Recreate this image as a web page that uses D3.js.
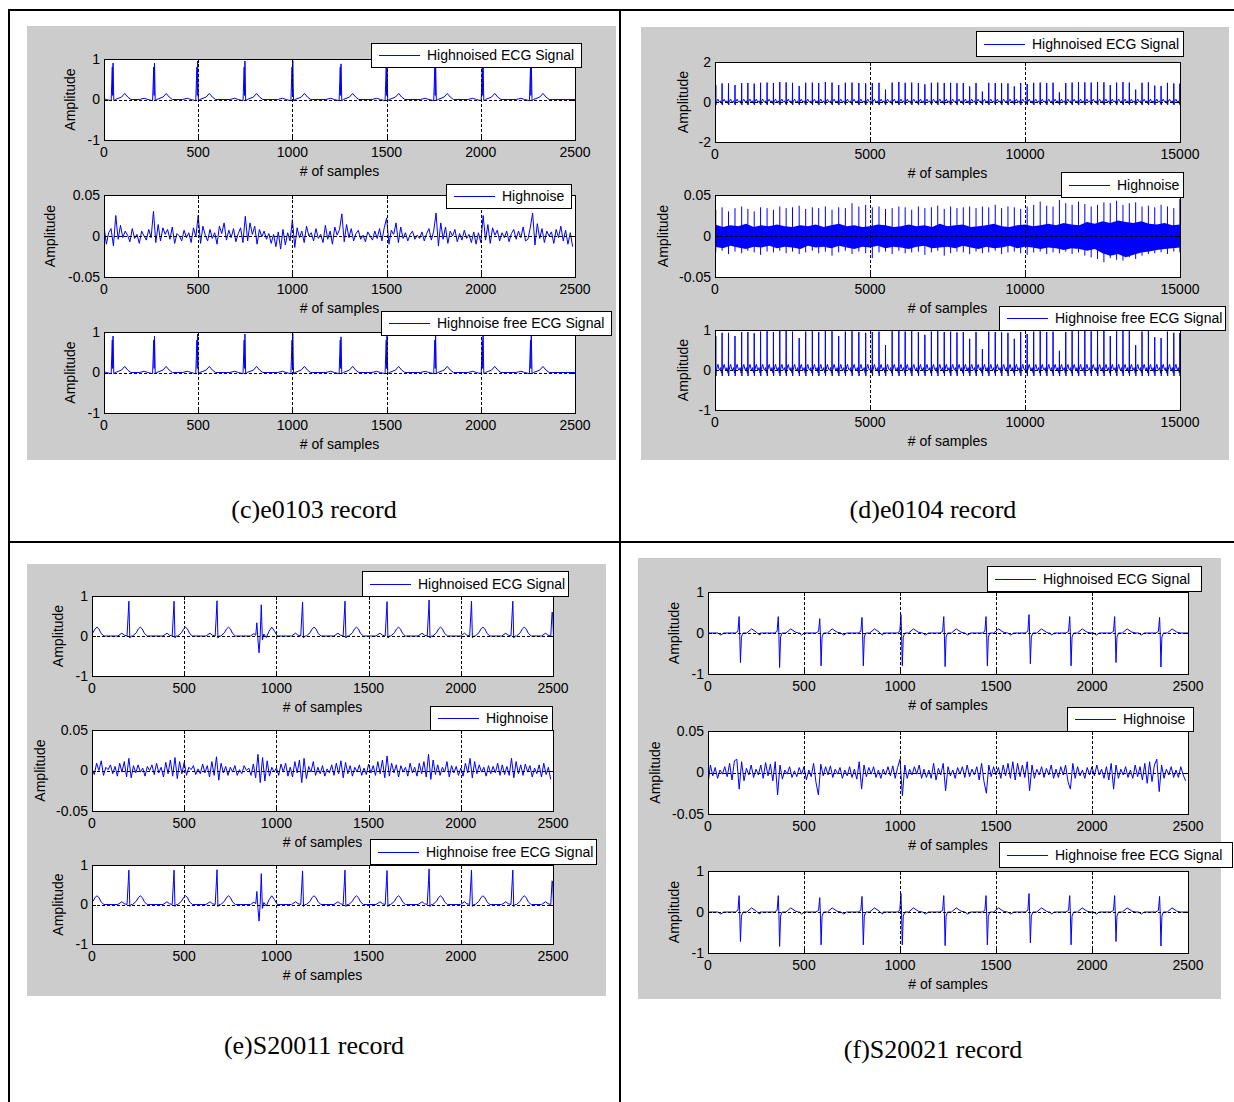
<!DOCTYPE html>
<html lang="en">
<head>
<meta charset="UTF-8">
<title>ECG records</title>
<script src="https://d3js.org/d3.v7.min.js"></script>
<style>
    body { margin: 0; background: #fff; }
    svg text { font-family: "Liberation Sans", Arial, sans-serif; font-size: 14px; fill: #000; }
    svg text.caption { font-family: "Liberation Serif", "Times New Roman", serif; font-size: 26px; }
</style>
</head>
<body>
<svg id="fig" width="1234" height="1102"></svg>
<script>

// ---- data ----

var ecgTicks = [-1, 0, 1];
var ecgTicksWide = [-2, 0, 2];
var noiseTicks = [-0.05, 0, 0.05];
var xTicksShort = [0, 500, 1000, 1500, 2000, 2500];
var xTicksLong = [0, 5000, 10000, 15000];

// (c) e0103 : R peak positions / heights and the beat shape
var cBeats = [48, 268, 497, 748, 1002, 1258, 1502, 1760, 2012, 2268];
var cR = [0.9, 0.9, 0.95, 0.95, 0.96, 0.88, 0.97, 0.97, 0.96, 0.93];
var cShapeOffset = [-80, -55, -35, -10, -4, -2, 0, 4, 12, 45, 62, 78, 95];
var cShapeValue  = [0, 0.03, 0, -0.03, 0.8, 0.1, "R", -0.03, 0, 0.06, 0.15, 0.06, 0];
// noise, one value every 12.5 samples
var cNoise = [
    0.012,-0.010,0.004,0.009,-0.012,0.025,-0.004,0.013,-0.002,0.006,0.001,-0.007,0.009,-0.003,0.002,-0.009,0.006,0.000,-0.005,0.008,
    -0.002,0.030,-0.008,0.014,-0.006,0.010,0.002,0.008,-0.004,0.011,-0.009,0.003,0.000,-0.006,0.007,-0.002,0.004,-0.008,0.010,-0.001,
    0.025,-0.009,0.012,0.001,-0.006,0.008,-0.003,0.004,-0.010,0.012,0.003,0.016,-0.005,0.007,-0.002,0.009,-0.007,0.003,0.010,-0.008,
    0.024,-0.006,0.016,0.002,0.012,-0.010,0.008,-0.001,0.006,-0.004,0.003,-0.009,0.002,-0.013,0.005,-0.016,0.008,-0.011,0.004,-0.006,
    0.020,-0.014,0.010,-0.002,0.006,-0.008,0.012,0.000,0.004,-0.006,0.009,-0.003,0.002,-0.008,0.013,-0.004,0.006,-0.010,0.011,0.001,
    0.008,0.027,-0.007,0.014,-0.002,0.009,-0.006,0.003,0.007,-0.004,0.001,-0.007,0.005,0.000,-0.005,0.006,-0.003,0.009,-0.006,0.010,
    0.022,-0.010,0.007,0.002,0.016,-0.008,0.011,-0.003,0.004,-0.006,0.002,0.006,-0.004,0.001,-0.003,0.005,-0.006,0.003,0.009,-0.005,
    0.006,0.028,-0.012,0.016,-0.004,0.011,-0.009,0.006,0.000,0.008,-0.007,0.003,-0.005,0.007,-0.003,0.002,-0.008,0.005,-0.010,0.004,
    -0.008,0.025,-0.005,0.014,-0.009,0.010,0.001,0.007,-0.006,0.004,-0.002,0.006,-0.007,0.003,0.008,-0.004,0.006,-0.002,0.011,-0.006,
    -0.004,0.010,0.028,-0.011,0.015,-0.003,0.009,-0.008,0.006,0.000,0.005,-0.009,0.008,-0.002,0.012,-0.006,0.007,-0.010,0.004,-0.013
];

// (d) e0104
var dBeats = [25,228,435,645,860,1060,1265,1470,1680,1885,
    2090,2295,2500,2715,2925,3140,3345,3560,3775,3990,
    4205,4420,4640,4860,5075,5290,5500,5715,5930,6135,
    6345,6560,6770,6980,7185,7395,7600,7805,8010,8215,
    8420,8625,8830,9040,9245,9450,9655,9860,10070,10280,
    10490,10700,10905,11110,11315,11520,11725,11930,12135,12340,
    12545,12750,12955,13160,13365,13570,13775,13980,14185,14390,
    14595,14800,14995];
var dR = [0.85,0.93,0.93,0.85,0.95,0.95,0.92,0.96,0.97,0.95,
    1.0,0.98,0.96,0.8,0.96,0.97,0.95,1.0,0.97,0.85,
    0.96,0.97,0.95,0.93,0.95,0.96,0.62,0.97,1.0,0.96,
    0.97,0.95,0.88,0.96,0.97,0.95,0.96,0.94,0.95,0.78,
    0.95,0.52,0.96,0.95,0.94,0.93,0.78,0.95,0.9,0.96,
    0.97,0.95,0.96,0.48,0.95,0.97,1.0,0.98,0.97,1.0,
    0.98,0.85,0.97,1.0,0.97,0.62,0.96,0.98,0.82,0.8,
    0.96,0.93,0.92];
var dShapeOffset = [-70, -50, -35, -15, -5, 0, 6, 14, 30, 50, 70, 95, 120];
var dShapeValue  = [0, 0.06, 0, -0.08, 0.02, "R", -0.15, 0, 0.02, 0.1, 0.14, 0.05, 0];
// noise band edges every 250 samples, and the spikes at each beat
var dBandHi = [0.014,0.011,0.013,0.012,0.015,0.011,0.013,0.012,0.014,0.012,0.011,0.013,0.012,0.014,0.011,0.013,0.015,0.012,0.013,0.011,
    0.012,0.014,0.013,0.011,0.012,0.014,0.012,0.013,0.011,0.015,0.012,0.013,0.014,0.011,0.012,0.013,0.015,0.012,0.011,0.013,
    0.014,0.012,0.013,0.015,0.013,0.016,0.014,0.013,0.017,0.015,0.018,0.016,0.019,0.017,0.016,0.018,0.015,0.014,0.016,0.013,0.014];
var dBandLo = [-0.013,-0.015,-0.012,-0.014,-0.016,-0.013,-0.014,-0.012,-0.015,-0.013,-0.014,-0.016,-0.012,-0.014,-0.013,-0.015,-0.012,-0.014,-0.016,-0.013,
    -0.014,-0.012,-0.015,-0.013,-0.014,-0.016,-0.013,-0.012,-0.015,-0.014,-0.013,-0.015,-0.012,-0.014,-0.016,-0.013,-0.015,-0.014,-0.012,-0.015,
    -0.013,-0.014,-0.016,-0.014,-0.015,-0.017,-0.015,-0.016,-0.018,-0.016,-0.021,-0.024,-0.022,-0.026,-0.023,-0.020,-0.019,-0.017,-0.016,-0.015,-0.014];
var dBandStep = 250;
var dSpikeUp = [0.032,0.035,0.030,0.034,0.036,0.033,0.030,0.035,0.034,0.032,
    0.036,0.034,0.035,0.037,0.033,0.035,0.034,0.036,0.032,0.035,
    0.034,0.040,0.036,0.038,0.035,0.036,0.033,0.034,0.036,0.035,
    0.032,0.036,0.034,0.035,0.037,0.033,0.036,0.034,0.035,0.036,
    0.034,0.036,0.035,0.038,0.034,0.036,0.035,0.033,0.036,0.038,
    0.042,0.037,0.036,0.044,0.040,0.038,0.042,0.039,0.036,0.038,
    0.041,0.040,0.043,0.038,0.040,0.041,0.036,0.037,0.035,0.038,
    0.036,0.034,0.045];
var dSpikeDown = [-0.020,-0.018,-0.022,-0.019,-0.021,-0.018,-0.020,-0.023,-0.019,-0.020,
    -0.018,-0.021,-0.019,-0.022,-0.020,-0.018,-0.021,-0.019,-0.024,-0.020,
    -0.018,-0.022,-0.019,-0.021,-0.027,-0.020,-0.019,-0.022,-0.018,-0.021,
    -0.020,-0.019,-0.023,-0.020,-0.018,-0.024,-0.021,-0.019,-0.020,-0.022,
    -0.019,-0.021,-0.020,-0.018,-0.022,-0.020,-0.019,-0.021,-0.023,-0.020,
    -0.019,-0.022,-0.020,-0.021,-0.019,-0.022,-0.020,-0.024,-0.026,-0.028,
    -0.032,-0.027,-0.029,-0.030,-0.026,-0.028,-0.024,-0.022,-0.021,-0.020,
    -0.022,-0.019,-0.020];

// (e) S20011 (the beat at 900 is an ectopic one, kept apart)
var eBeats = [-35, 200, 445, 678, 1142, 1372, 1600, 1828, 2058, 2282, 2498];
var eR = [0.85, 0.87, 0.87, 0.88, 0.85, 0.87, 0.86, 0.9, 0.87, 0.87, 0.58];
var eShapeOffset = [-60, -38, -25, -10, -3, 0, 5, 12, 20, 40, 52, 62, 72, 85, 100];
var eShapeValue  = [0, 0.07, 0.02, 0, 0.6, "R", -0.05, 0, 0, 0.08, 0.18, 0.22, 0.18, 0.06, 0];
var eEctopicX = [860, 878, 888, 894, 900, 906, 912, 918, 924, 932, 945, 960, 975, 990, 1005];
var eEctopicY = [0, 0.06, 0.02, 0.33, -0.1, -0.42, 0, 0.78, -0.1, 0.05, -0.04, 0.12, 0.22, 0.12, 0];
var eNoise = [
    0.002,-0.005,0.009,0.000,0.012,-0.006,0.004,0.001,0.007,-0.004,0.005,-0.007,0.009,-0.002,0.011,-0.008,0.015,-0.009,0.006,-0.003,
    0.007,-0.002,0.003,-0.007,0.005,0.000,0.007,-0.005,0.009,-0.003,0.004,-0.008,0.010,-0.004,0.013,-0.007,0.016,-0.010,0.011,-0.004,
    0.010,-0.006,0.004,0.001,0.006,-0.005,0.002,-0.004,0.008,-0.003,0.006,-0.008,0.011,-0.006,0.017,-0.012,0.009,-0.003,0.005,-0.006,
    0.004,-0.002,0.006,-0.006,0.001,-0.004,0.006,0.000,0.003,-0.006,0.008,-0.009,0.020,-0.015,0.016,-0.013,0.012,-0.007,0.004,-0.002,
    0.003,-0.006,0.008,-0.002,0.009,-0.007,0.004,-0.008,0.011,-0.003,0.013,-0.015,0.015,-0.010,0.005,-0.002,0.011,-0.006,0.004,-0.004,
    0.006,-0.007,0.002,-0.003,0.007,-0.006,0.009,-0.004,0.012,-0.009,0.010,-0.004,0.006,-0.007,0.004,-0.002,0.007,-0.006,0.003,-0.005,
    0.008,-0.003,0.006,-0.006,0.011,-0.004,0.013,-0.009,0.018,-0.007,0.009,-0.003,0.007,-0.008,0.006,-0.002,0.004,-0.007,0.009,-0.003,
    0.004,-0.007,0.009,-0.004,0.011,-0.008,0.020,-0.011,0.013,-0.005,0.007,-0.006,0.004,-0.002,0.011,-0.008,0.006,-0.003,0.005,-0.006,
    0.003,-0.007,0.009,-0.003,0.015,-0.009,0.011,-0.004,0.007,-0.002,0.004,-0.007,0.006,-0.004,0.005,-0.003,0.009,-0.006,0.007,-0.005,
    0.005,-0.006,0.015,-0.009,0.011,-0.004,0.007,-0.006,0.008,-0.002,0.006,-0.008,0.003,-0.004,0.007,-0.008,0.009,-0.005,0.004,-0.011
];

// (f) S20021 : small R, deep S
var fBeats = [162, 366, 582, 802, 1005, 1228, 1448, 1672, 1884, 2118, 2352];
var fR = [0.4, 0.4, 0.35, 0.38, 0.45, 0.4, 0.4, 0.45, 0.4, 0.4, 0.38];
var fS = [-0.72, -0.84, -0.8, -0.8, -0.8, -0.82, -0.8, -0.75, -0.8, -0.72, -0.83];
var fShapeOffset = [-110, -95, -80, -20, -6, 0, 3, 7, 12, 20, 40, 65, 90, 110];
var fShapeValue  = [0, -0.05, 0, 0, 0.04, "R", 0, "S", -0.1, 0, 0, 0.1, 0.02, 0];
var fNoise = [
    -0.014,0.009,-0.004,0.006,-0.007,0.003,-0.002,0.007,-0.005,0.011,-0.009,0.014,0.016,-0.020,0.013,-0.010,0.005,-0.003,0.009,-0.006,
    0.004,-0.003,0.009,-0.007,0.012,-0.004,0.010,-0.010,0.013,-0.027,0.009,-0.008,0.003,-0.002,0.007,-0.006,0.002,-0.005,0.006,-0.002,
    0.007,-0.009,0.003,-0.005,0.011,-0.012,-0.027,0.010,-0.004,0.007,-0.003,0.008,-0.006,0.004,-0.002,0.006,-0.007,0.003,-0.004,0.007,
    -0.006,0.004,-0.008,0.013,-0.020,0.009,-0.005,0.006,-0.002,0.007,-0.006,0.003,-0.007,0.004,-0.003,0.007,-0.004,0.008,-0.007,0.006,
    0.016,-0.028,0.009,-0.007,0.004,-0.003,0.007,-0.002,0.009,-0.007,0.004,-0.006,0.003,-0.007,0.011,-0.009,0.005,-0.003,0.011,-0.022,
    0.007,-0.004,0.003,-0.007,0.006,-0.002,0.007,-0.006,0.009,-0.005,0.004,-0.003,0.007,-0.009,0.011,-0.011,-0.025,0.009,-0.005,0.007,
    -0.003,0.006,-0.007,0.009,-0.004,0.011,-0.007,0.013,-0.009,0.011,-0.005,0.009,-0.006,0.013,-0.022,0.009,-0.007,0.004,-0.003,0.007,
    -0.006,0.005,-0.003,0.009,-0.007,0.004,-0.006,0.007,-0.003,0.009,-0.011,-0.020,0.011,-0.007,0.007,-0.004,0.003,-0.007,0.006,-0.003,
    0.007,-0.004,0.009,-0.003,0.004,-0.007,0.007,-0.009,0.011,-0.020,0.009,-0.007,0.004,-0.003,0.007,-0.006,0.003,-0.007,0.009,-0.005,
    0.007,-0.009,0.011,-0.013,0.013,-0.011,0.009,0.016,-0.023,0.009,-0.007,0.004,-0.003,0.007,-0.006,0.003,-0.006,0.007,-0.003,-0.010
];
var noiseStep = 12.5;

var legendTexts = ["Highnoised ECG Signal", "Highnoise", "Highnoise free ECG Signal"];
var captions = ["(c)e0103 record", "(d)e0104 record", "(e)S20011 record", "(f)S20021 record"];

// ---- helpers ----

function beatsToPoints(beats, offsets, values, peaks) {
    var pts = [];
    beats.forEach(function(b, i) {
        offsets.forEach(function(o, j) {
            var v = values[j];
            if (typeof v === "string") v = peaks[v][i];
            pts.push([b + o, v]);
        });
    });
    return pts;
}

function finishPoints(pts, xmax) {
    pts.sort(function(a, b) { return a[0] - b[0]; });
    if (pts[0][0] > 0) pts.unshift([0, 0]);
    if (pts[pts.length - 1][0] < xmax) pts.push([xmax, 0]);
    return pts;
}

var svg = d3.select("#fig");
var clipCount = 0;
var blue = "#0000ff";

function drawAxes(box, cfg) {
    var x = d3.scaleLinear().domain([0, cfg.xmax]).range([box.l, box.r]);
    var y = d3.scaleLinear().domain([cfg.yticks[0], cfg.yticks[cfg.yticks.length - 1]]).range([box.b, box.t]);

    svg.append("rect")
        .attr("x", box.l).attr("y", box.t)
        .attr("width", box.r - box.l).attr("height", box.b - box.t)
        .attr("fill", "#fff");

    var id = "clip" + (clipCount++);
    svg.append("clipPath").attr("id", id).append("rect")
        .attr("x", box.l).attr("y", box.t)
        .attr("width", box.r - box.l).attr("height", box.b - box.t);

    var plot = svg.append("g").attr("clip-path", "url(#" + id + ")");
    cfg.draw(plot, x, y);

    // dashed grid on top, like the matlab figure
    var grid = svg.append("g").attr("stroke", "#000").attr("stroke-dasharray", "3,2").attr("stroke-width", 1);
    cfg.xticks.slice(1, -1).forEach(function(t) {
        grid.append("line").attr("x1", Math.round(x(t)) + 0.5).attr("x2", Math.round(x(t)) + 0.5)
            .attr("y1", box.t).attr("y2", box.b);
    });
    cfg.yticks.slice(1, -1).forEach(function(t) {
        grid.append("line").attr("y1", Math.round(y(t)) + 0.5).attr("y2", Math.round(y(t)) + 0.5)
            .attr("x1", box.l).attr("x2", box.r);
    });

    // inner tick marks
    var tk = svg.append("g").attr("stroke", "#000").attr("stroke-width", 1);
    cfg.xticks.forEach(function(t) {
        var xx = Math.round(x(t)) + 0.5;
        tk.append("line").attr("x1", xx).attr("x2", xx).attr("y1", box.b).attr("y2", box.b - 4);
        tk.append("line").attr("x1", xx).attr("x2", xx).attr("y1", box.t).attr("y2", box.t + 4);
    });
    cfg.yticks.forEach(function(t) {
        var yy = Math.round(y(t)) + 0.5;
        tk.append("line").attr("y1", yy).attr("y2", yy).attr("x1", box.l).attr("x2", box.l + 4);
        tk.append("line").attr("y1", yy).attr("y2", yy).attr("x1", box.r).attr("x2", box.r - 4);
    });

    svg.append("rect")
        .attr("x", box.l + 0.5).attr("y", box.t + 0.5)
        .attr("width", box.r - box.l).attr("height", box.b - box.t)
        .attr("fill", "none").attr("stroke", "#000");

    cfg.xticks.forEach(function(t) {
        svg.append("text").attr("x", x(t)).attr("y", box.b + 17)
            .attr("text-anchor", "middle").text(String(t));
    });
    cfg.yticks.forEach(function(t) {
        svg.append("text").attr("x", box.l - 4).attr("y", y(t)).attr("dy", "0.35em")
            .attr("text-anchor", "end").text(String(t));
    });

    svg.append("text").attr("x", (box.l + box.r) / 2).attr("y", box.b + 36)
        .attr("text-anchor", "middle").text("# of samples");
    svg.append("text")
        .attr("transform", "translate(" + (box.l + cfg.ylabelDx) + "," + ((box.t + box.b) / 2) + ") rotate(-90)")
        .attr("dy", "0.35em").attr("text-anchor", "middle").text("Amplitude");

    var L = cfg.legend;
    svg.append("rect").attr("x", L.x + 0.5).attr("y", L.y + 0.5)
        .attr("width", L.w).attr("height", L.h)
        .attr("fill", "#fff").attr("stroke", "#000");
    svg.append("line").attr("x1", L.x + 8).attr("x2", L.x + 49)
        .attr("y1", Math.round(L.y + L.h / 2) + 0.5).attr("y2", Math.round(L.y + L.h / 2) + 0.5)
        .attr("stroke", blue);
    svg.append("text").attr("x", L.x + 56).attr("y", L.y + L.h / 2).attr("dy", "0.36em").text(L.text);
}

function lineDrawer(pts) {
    return function(g, x, y) {
        var line = d3.line().x(function(d) { return x(d[0]); }).y(function(d) { return y(d[1]); });
        g.append("path").datum(pts).attr("d", line)
            .attr("fill", "none").attr("stroke", blue).attr("stroke-width", 1);
    };
}

function noisePoints(arr) {
    return arr.map(function(v, i) { return [i * noiseStep, v]; });
}

// ---- build series ----
var cPts = finishPoints(beatsToPoints(cBeats, cShapeOffset, cShapeValue, {R: cR}), 2500);
var dPts = finishPoints(beatsToPoints(dBeats, dShapeOffset, dShapeValue, {R: dR}), 15000);
var ePts = beatsToPoints(eBeats, eShapeOffset, eShapeValue, {R: eR});
eEctopicX.forEach(function(v, i) { ePts.push([v, eEctopicY[i]]); });
ePts = finishPoints(ePts, 2500);
var fPts = finishPoints(beatsToPoints(fBeats, fShapeOffset, fShapeValue, {R: fR, S: fS}), 2500);

function dNoiseDrawer(g, x, y) {
    var band = dBandHi.map(function(v, i) { return [i * dBandStep, v, dBandLo[i]]; });
    var area = d3.area().x(function(d) { return x(d[0]); })
        .y0(function(d) { return y(d[2]); }).y1(function(d) { return y(d[1]); });
    g.append("path").datum(band).attr("d", area).attr("fill", blue);
    var p = d3.path();
    dBeats.forEach(function(b, i) {
        p.moveTo(x(b), y(dSpikeDown[i]));
        p.lineTo(x(b), y(dSpikeUp[i]));
    });
    g.append("path").attr("d", p.toString()).attr("fill", "none").attr("stroke", blue).attr("stroke-width", 1);
}

// ---- layout ----
var panels = [
    {bg: {x: 27, y: 26, w: 589, h: 434}, caption: {x: 314, y: 518}, xmax: 2500, xticks: xTicksShort,
     axes: [
        {box: {l: 104, t: 59, r: 575, b: 140}, yticks: ecgTicks, dx: -34, draw: lineDrawer(cPts), legend: {x: 371, y: 43, w: 210, h: 24}},
        {box: {l: 104, t: 195, r: 575, b: 277}, yticks: noiseTicks, dx: -54, draw: lineDrawer(noisePoints(cNoise)), legend: {x: 446, y: 184, w: 125, h: 24}},
        {box: {l: 104, t: 332, r: 575, b: 413}, yticks: ecgTicks, dx: -34, draw: lineDrawer(cPts), legend: {x: 381, y: 311, w: 230, h: 24}}
     ]},
    {bg: {x: 641, y: 27, w: 588, h: 433}, caption: {x: 933, y: 518}, xmax: 15000, xticks: xTicksLong,
     axes: [
        {box: {l: 715, t: 62, r: 1180, b: 142}, yticks: ecgTicksWide, dx: -32, draw: lineDrawer(dPts), legend: {x: 976, y: 31, w: 207, h: 25}},
        {box: {l: 715, t: 195, r: 1180, b: 277}, yticks: noiseTicks, dx: -52, draw: dNoiseDrawer, legend: {x: 1061, y: 172, w: 122, h: 25}},
        {box: {l: 715, t: 330, r: 1180, b: 410}, yticks: ecgTicks, dx: -32, draw: lineDrawer(dPts), legend: {x: 999, y: 306, w: 226, h: 24}}
     ]},
    {bg: {x: 27, y: 564, w: 579, h: 432}, caption: {x: 314, y: 1054}, xmax: 2500, xticks: xTicksShort,
     axes: [
        {box: {l: 92, t: 596, r: 553, b: 676}, yticks: ecgTicks, dx: -34, draw: lineDrawer(ePts), legend: {x: 362, y: 571, w: 206, h: 25}},
        {box: {l: 92, t: 730, r: 553, b: 811}, yticks: noiseTicks, dx: -52, draw: lineDrawer(noisePoints(eNoise)), legend: {x: 430, y: 706, w: 122, h: 24}},
        {box: {l: 92, t: 865, r: 553, b: 944}, yticks: ecgTicks, dx: -34, draw: lineDrawer(ePts), legend: {x: 370, y: 839, w: 226, h: 25}}
     ]},
    {bg: {x: 638, y: 558, w: 583, h: 441}, caption: {x: 933, y: 1058}, xmax: 2500, xticks: xTicksShort,
     axes: [
        {box: {l: 708, t: 592, r: 1188, b: 674}, yticks: ecgTicks, dx: -34, draw: lineDrawer(fPts), legend: {x: 987, y: 566, w: 214, h: 25}},
        {box: {l: 708, t: 731, r: 1188, b: 814}, yticks: noiseTicks, dx: -53, draw: lineDrawer(noisePoints(fNoise)), legend: {x: 1067, y: 707, w: 126, h: 24}},
        {box: {l: 708, t: 871, r: 1188, b: 953}, yticks: ecgTicks, dx: -34, draw: lineDrawer(fPts), legend: {x: 999, y: 842, w: 233, h: 25}}
     ]}
];

// table borders
var borders = svg.append("g").attr("stroke", "#000").attr("stroke-width", 2);
borders.append("line").attr("x1", 9).attr("x2", 1234).attr("y1", 10).attr("y2", 10);
borders.append("line").attr("x1", 9).attr("x2", 1234).attr("y1", 542).attr("y2", 542);
borders.append("line").attr("x1", 9).attr("x2", 9).attr("y1", 9).attr("y2", 1102);
borders.append("line").attr("x1", 620).attr("x2", 620).attr("y1", 9).attr("y2", 1102);

panels.forEach(function(p, pi) {
    svg.append("rect").attr("x", p.bg.x).attr("y", p.bg.y)
        .attr("width", p.bg.w).attr("height", p.bg.h).attr("fill", "#cccccc");
    p.axes.forEach(function(a, ai) {
        a.legend.text = legendTexts[ai];
        drawAxes(a.box, {xmax: p.xmax, xticks: p.xticks, yticks: a.yticks, ylabelDx: a.dx, draw: a.draw, legend: a.legend});
    });
    svg.append("text").attr("class", "caption").attr("x", p.caption.x).attr("y", p.caption.y)
        .attr("text-anchor", "middle").text(captions[pi]);
});

</script>
</body>
</html>
